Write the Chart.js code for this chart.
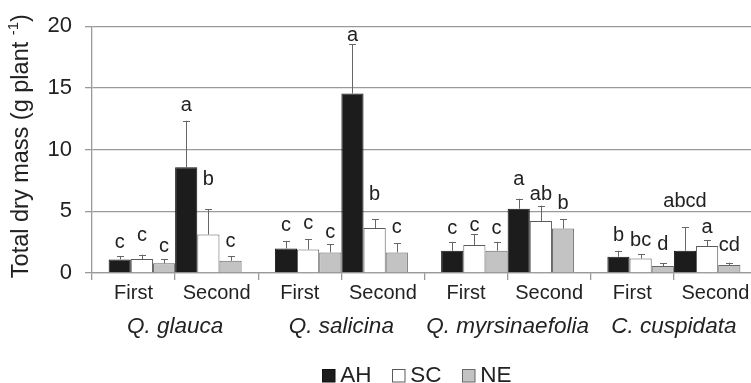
<!DOCTYPE html>
<html>
<head>
<meta charset="utf-8">
<script src="https://cdn.jsdelivr.net/npm/chart.js@4"></script>
<style>
  html, body { margin: 0; padding: 0; overflow: hidden; background: #fff; }
  #wrap { width: 751px; height: 383px; overflow: hidden; position: relative; }
  canvas { display: block; }
</style>
</head>
<body>
<div id="wrap"><canvas id="c" width="760" height="383"></canvas></div>
<script>
// Species, harvests and light treatments
const species = ['Q. glauca', 'Q. salicina', 'Q. myrsinaefolia', 'C. cuspidata'];
const harvests = ['First', 'Second'];
const treatments = ['AH', 'SC', 'NE'];
const yTicks = [0, 5, 10, 15, 20];

// Mean total dry mass (g plant-1), one value per species
const ahFirst  = [1.10, 1.99, 1.80, 1.32];
const scFirst  = [1.13, 1.91, 2.26, 1.18];
const neFirst  = [0.78, 1.67, 1.80, 0.56];
const ahSecond = [8.57, 14.54, 5.21, 1.80];
const scSecond = [3.12, 3.65, 4.22, 2.18];
const neSecond = [0.99, 1.67, 3.60, 0.65];

// Standard errors (upper bars)
const ahFirstErr  = [0.27, 0.61, 0.72, 0.48];
const scFirstErr  = [0.35, 0.81, 0.89, 0.35];
const neFirstErr  = [0.35, 0.67, 0.72, 0.22];
const ahSecondErr = [3.77, 3.98, 0.81, 1.93];
const scSecondErr = [2.04, 0.70, 1.24, 0.48];
const neSecondErr = [0.38, 0.73, 0.75, 0.18];

// Significance letters
const ahFirstSig  = ['c', 'c', 'c', 'b'];
const scFirstSig  = ['c', 'c', 'c', 'bc'];
const neFirstSig  = ['c', 'c', 'c', 'd'];
const ahSecondSig = ['a', 'a', 'a', 'abcd'];
const scSecondSig = ['b', 'b', 'ab', 'a'];
const neSecondSig = ['c', 'c', 'b', 'cd'];

const fills   = { AH: '#1c1c1c', SC: '#ffffff', NE: '#c3c3c3' };
const borders = { AH: '#111111', SC: '#5a5a5a', NE: '#666666' };

const series = [
  { t: 'AH', data: ahFirst,  err: ahFirstErr,  sig: ahFirstSig },
  { t: 'SC', data: scFirst,  err: scFirstErr,  sig: scFirstSig },
  { t: 'NE', data: neFirst,  err: neFirstErr,  sig: neFirstSig },
  { t: 'AH', data: ahSecond, err: ahSecondErr, sig: ahSecondSig },
  { t: 'SC', data: scSecond, err: scSecondErr, sig: scSecondSig },
  { t: 'NE', data: neSecond, err: neSecondErr, sig: neSecondSig }
];

const datasets = series.map(s => ({
  label: s.t,
  data: s.data,
  errors: s.err,
  letters: s.sig,
  backgroundColor: fills[s.t],
  borderColor: borders[s.t],
  borderWidth: 1,
  xAxisID: 'x',
  yAxisID: 'y'
}));

const FONT = '"Liberation Sans", Arial, Helvetica, sans-serif';
const INK = '#222';
const GRID = '#9a9a9a';

// Error bars with significance letters on top
const errorBars = {
  id: 'errorBars',
  afterDatasetsDraw(chart, args, opts) {
    const { ctx } = chart;
    const y = chart.scales.y;
    ctx.save();
    chart.data.datasets.forEach((ds, i) => {
      const meta = chart.getDatasetMeta(i);
      meta.data.forEach((bar, j) => {
        const top = y.getPixelForValue(ds.data[j] + ds.errors[j]);
        const x = Math.round(bar.x) + 0.5;
        ctx.strokeStyle = opts.color;
        ctx.lineWidth = 1;
        ctx.beginPath();
        ctx.moveTo(x, bar.y);
        ctx.lineTo(x, top);
        ctx.moveTo(x - opts.cap / 2, Math.round(top) + 0.5);
        ctx.lineTo(x + opts.cap / 2, Math.round(top) + 0.5);
        ctx.stroke();
        ctx.fillStyle = INK;
        ctx.font = opts.font;
        ctx.textAlign = 'center';
        ctx.textBaseline = 'alphabetic';
        ctx.fillText(ds.letters[j], bar.x, top - opts.gaps[i][j] + 5);
      });
    });
    ctx.restore();
  }
};

// Rotated y title with a superscript exponent
const yTitle = {
  id: 'yTitle',
  afterDraw(chart, args, opts) {
    const { ctx, chartArea } = chart;
    const main = 'Total dry mass (g plant ';
    const sup = '-1';
    const close = ')';
    ctx.save();
    ctx.translate(opts.x, (chartArea.top + chartArea.bottom) / 2 + opts.dy);
    ctx.rotate(-Math.PI / 2);
    ctx.fillStyle = INK;
    ctx.textAlign = 'left';
    ctx.textBaseline = 'alphabetic';
    ctx.font = opts.size + 'px ' + FONT;
    const w1 = ctx.measureText(main).width;
    const w3 = ctx.measureText(close).width;
    ctx.font = opts.supSize + 'px ' + FONT;
    const w2 = ctx.measureText(sup).width;
    const start = -(w1 + w2 + w3) / 2;
    ctx.font = opts.size + 'px ' + FONT;
    ctx.fillText(main, start, 0);
    ctx.fillText(close, start + w1 + w2, 0);
    ctx.font = opts.supSize + 'px ' + FONT;
    ctx.fillText(sup, start + w1, -opts.raise);
    ctx.restore();
  }
};

// Legend: one entry per treatment
const treatmentLegend = {
  id: 'treatmentLegend',
  afterDraw(chart, args, opts) {
    const { ctx } = chart;
    ctx.save();
    ctx.font = opts.size + 'px ' + FONT;
    const items = treatments.map(t => ({ t, w: opts.box + opts.gap + ctx.measureText(t).width }));
    const total = items.reduce((a, it) => a + it.w, 0) + opts.spacing * (items.length - 1);
    let x = opts.centerX - total / 2;
    items.forEach(it => {
      const bx = Math.round(x) + 0.5, by = Math.round(opts.y - opts.box / 2) + 0.5;
      ctx.fillStyle = fills[it.t];
      ctx.fillRect(bx, by, opts.box, opts.box);
      ctx.strokeStyle = borders[it.t];
      ctx.lineWidth = 1;
      ctx.strokeRect(bx, by, opts.box, opts.box);
      ctx.fillStyle = INK;
      ctx.textAlign = 'left';
      ctx.textBaseline = 'middle';
      ctx.fillText(it.t, x + opts.box + opts.gap, opts.y + 1);
      x += it.w + opts.spacing;
    });
    ctx.restore();
  }
};

new Chart(document.getElementById('c'), {
  type: 'bar',
  data: { labels: species, datasets },
  plugins: [errorBars, yTitle, treatmentLegend],
  options: {
    responsive: false,
    animation: false,
    devicePixelRatio: 1,
    layout: { padding: { top: 25, right: 3, bottom: 41, left: 0 } },
    datasets: { bar: { categoryPercentage: 0.8, barPercentage: 1.0 } },
    scales: {
      y: {
        min: 0, max: 20,
        afterFit: s => { s.width = 92; },
        afterBuildTicks: s => { s.ticks = yTicks.map(v => ({ value: v })); },
        ticks: { color: INK, font: { family: FONT, size: 22 }, padding: 13 },
        grid: { color: GRID, lineWidth: 1.3, tickLength: 7, drawTicks: true },
        border: { color: GRID, width: 1.3 }
      },
      xs: {
        type: 'category',
        position: 'bottom',
        weight: 0,
        labels: species.flatMap(() => harvests),
        offset: true,
        afterFit: s => { s.height = 37; },
        ticks: { color: INK, font: { family: FONT, size: 20 }, padding: 1, maxRotation: 0, autoSkip: false },
        grid: { offset: true, drawOnChartArea: false, drawTicks: true, tickLength: 7, color: GRID, lineWidth: 1.3 },
        border: { color: GRID, width: 1.3 }
      },
      x: {
        position: 'bottom',
        weight: 1,
        afterFit: s => { s.height = 32; },
        ticks: { color: INK, font: { family: FONT, size: 22.5, style: 'italic' }, padding: 3, maxRotation: 0, autoSkip: false },
        grid: { display: false, drawTicks: false },
        border: { display: false }
      }
    },
    plugins: {
      legend: { display: false },
      tooltip: { enabled: false },
      errorBars: {
        color: '#666',
        cap: 7,
        font: '20px ' + FONT,
        gaps: [
          [12.7, 14.7, 13.4, 14.7],
          [18.5, 15, 8.5, 13],
          [12, 10.7, 12.7, 18.3],
          [15, 8.3, 19, 25],
          [29.5, 24, 10.3, 11.7],
          [14.3, 15.6, 15.7, 16.7]
        ]
      },
      yTitle: { x: 28, dy: -3.5, size: 23.5, supSize: 15, raise: 10 },
      treatmentLegend: { centerX: 416.6, y: 375, box: 12.5, gap: 6, spacing: 20.25, size: 22.5 }
    }
  }
});
</script>
</body>
</html>
